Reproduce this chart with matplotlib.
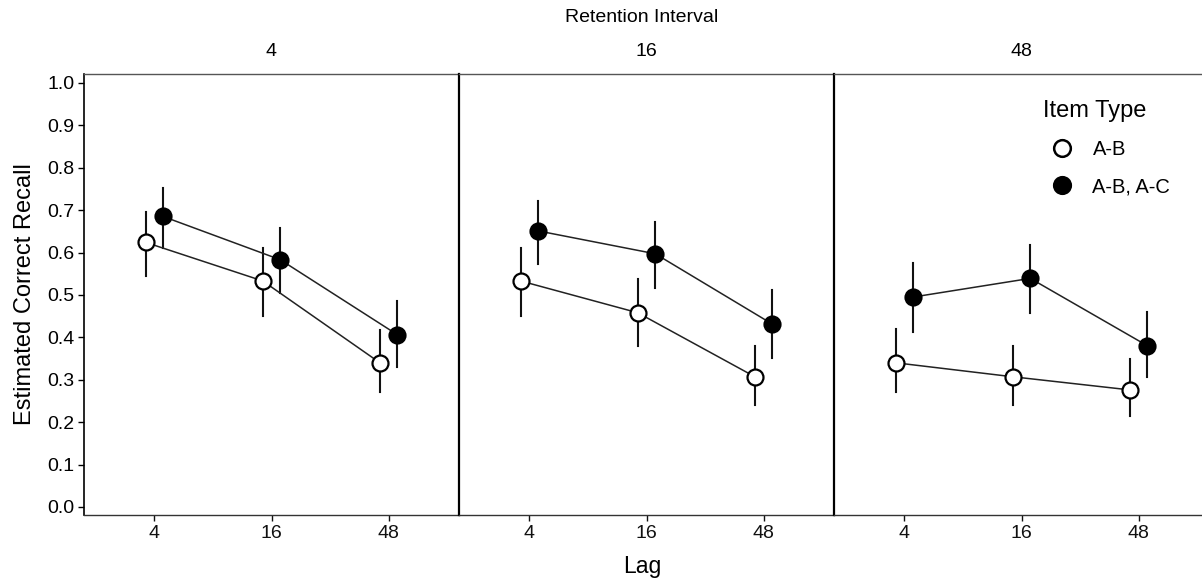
import matplotlib
matplotlib.use("Agg")
import matplotlib.pyplot as plt
from matplotlib.lines import Line2D

plt.rcParams['font.family'] = ['Liberation Sans', 'DejaVu Sans']

retention = ["4", "16", "48"]
lags = ["4", "16", "48"]
y_ticks = [0.0, 0.1, 0.2, 0.3, 0.4, 0.5, 0.6, 0.7, 0.8, 0.9, 1.0]

# A-B (open)
ab_mean = [[0.624, 0.533, 0.340], [0.533, 0.458, 0.307], [0.340, 0.307, 0.276]]
ab_lo = [[0.545, 0.451, 0.272], [0.451, 0.380, 0.241], [0.270, 0.241, 0.215]]
ab_hi = [[0.696, 0.611, 0.417], [0.611, 0.538, 0.380], [0.419, 0.380, 0.348]]
# A-B, A-C (filled)
abac_mean = [[0.685, 0.583, 0.406], [0.651, 0.597, 0.431], [0.495, 0.539, 0.380]]
abac_lo = [[0.610, 0.504, 0.331], [0.573, 0.516, 0.352], [0.413, 0.457, 0.307]]
abac_hi = [[0.751, 0.659, 0.486], [0.722, 0.671, 0.512], [0.576, 0.618, 0.459]]

W, H = 1202, 583
fig = plt.figure(figsize=(W / 100, H / 100), dpi=100)

top_px, bot_px = 74, 515
panel_left = [84, 459, 834]
panel_w = 375
dodge = 0.075
ms = 11.5

series = [
    ("A-B", ab_mean, ab_lo, ab_hi, "white", -dodge),
    ("A-B, A-C", abac_mean, abac_lo, abac_hi, "black", dodge),
]

axes = []
for p in range(3):
    ax = fig.add_axes([panel_left[p] / W, 1 - bot_px / H, panel_w / W, (bot_px - top_px) / H])
    axes.append(ax)
    xs = [1, 2, 3]
    for name, m, lo, hi, fc, off in series:
        xx = [x + off for x in xs]
        ax.plot(xx, m[p], color="#222222", lw=1.1, zorder=2)
        for i in range(3):
            ax.plot([xx[i], xx[i]], [lo[p][i], hi[p][i]], color="#111111", lw=1.5, zorder=1)
        ax.plot(xx, m[p], linestyle="none", marker="o", ms=ms, mfc=fc, mec="black",
                mew=1.6, zorder=3)
    ax.set_xlim(0.4, 3.6)
    ax.set_ylim(-0.019, 1.021)
    ax.set_xticks(xs)
    ax.set_xticklabels(lags, fontsize=14)
    ax.spines['right'].set_visible(False)
    ax.spines['top'].set_color("#555555")
    ax.spines['top'].set_linewidth(1.0)
    ax.spines['bottom'].set_color("#333333")
    ax.spines['bottom'].set_linewidth(1.0)
    ax.tick_params(axis='x', length=4, width=1.0, pad=3, colors="#111111")
    if p == 0:
        ax.set_yticks(y_ticks)
        ax.set_yticklabels([f"{v:.1f}" for v in y_ticks], fontsize=14)
        ax.tick_params(axis='y', length=4, width=1.0, pad=3)
        ax.spines['left'].set_linewidth(1.2)
        ax.set_ylabel("Estimated Correct Recall", fontsize=17, labelpad=8)
    else:
        ax.set_yticks([])
        ax.spines['left'].set_linewidth(1.6)
        ax.spines['left'].set_color("black")
    ax.text(0.5, 1 + 22 / (bot_px - top_px), retention[p], transform=ax.transAxes,
            ha="center", va="center", fontsize=14)

fig.text(642 / W, 1 - 18 / H, "Retention Interval", ha="center", va="center", fontsize=14)
fig.text(642 / W, 1 - 567 / H, "Lag", ha="center", va="center", fontsize=16.5)

handles = [
    Line2D([], [], linestyle="none", marker="o", ms=12, mfc="white", mec="black", mew=1.8),
    Line2D([], [], linestyle="none", marker="o", ms=12, mfc="black", mec="black", mew=1.8),
]
leg = fig.legend(handles, ["A-B", "A-B, A-C"], title="Item Type", frameon=False,
                 loc="upper left", bbox_to_anchor=(1025 / W, 1 - 82 / H),
                 fontsize=14.5, title_fontsize=17, handletextpad=0.55, labelspacing=0.9,
                 handlelength=1.9)
leg._legend_box.align = "left"

fig.savefig("out.png", dpi=100)
